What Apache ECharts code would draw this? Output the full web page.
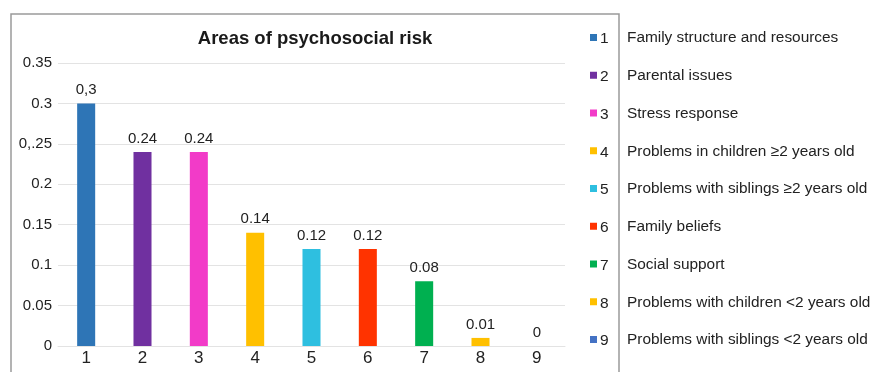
<!DOCTYPE html>
<html>
<head>
<meta charset="utf-8">
<script src="https://cdn.jsdelivr.net/npm/echarts@6/dist/echarts.min.js"></script>
<style>
  html, body { margin: 0; padding: 0; background: #fff; }
  #chart { width: 874px; height: 372px; }
</style>
</head>
<body>
<div id="chart"></div>
<script>
// Psychosocial risk areas: share of families flagged in each area
const categories = ['1', '2', '3', '4', '5', '6', '7', '8', '9'];
const riskValues = [0.3, 0.24, 0.24, 0.14, 0.12, 0.12, 0.08, 0.01, 0];
const valueLabels = ['0,3', '0.24', '0.24', '0.14', '0.12', '0.12', '0.08', '0.01', '0'];
const areaNames = [
  'Family structure and resources',
  'Parental issues',
  'Stress response',
  'Problems in children \u22652 years old',
  'Problems with siblings \u22652 years old',
  'Family beliefs',
  'Social support',
  'Problems with children <2 years old',
  'Problems with siblings <2 years old'
];
const yTickLabels = ['0', '0.05', '0.1', '0.15', '0.2', '0,.25', '0.3', '0.35'];
const areaColors = ['#2E75B6', '#7030A0', '#F23BC8', '#FFC000', '#2EBFE0', '#FF3300', '#00B050', '#FFC000', '#4472C4'];

const FONT = 'Liberation Sans, Arial, sans-serif';
const chart = echarts.init(document.getElementById('chart'), null, { renderer: 'canvas' });

// Legend column: colour key + number inside the frame, description beside it
const legendTop = 38, legendStep = 37.75;
const legendItems = [];
areaNames.forEach(function (name, i) {
  const cy = legendTop + i * legendStep;
  legendItems.push({
    type: 'rect', shape: { x: 590, y: cy - 4, width: 7, height: 7 },
    style: { fill: areaColors[i] }
  });
  legendItems.push({
    type: 'text', x: 600, y: cy + 1,
    style: { text: categories[i], font: '15.5px ' + FONT, fill: '#222', textVerticalAlign: 'middle' }
  });
  legendItems.push({
    type: 'text', x: 627, y: cy,
    style: { text: name, font: '15.4px ' + FONT, fill: '#222', textVerticalAlign: 'middle' }
  });
});

chart.setOption({
  animation: false,
  backgroundColor: '#fff',
  title: {
    text: 'Areas of psychosocial risk',
    left: 310, top: 24, textAlign: 'center',
    textStyle: { fontFamily: FONT, fontSize: 18.5, fontWeight: 'bold', color: '#1a1a1a' }
  },
  grid: { left: 58, right: 309, top: 63, bottom: 26, containLabel: false },
  xAxis: {
    type: 'category',
    data: categories,
    axisLine: { lineStyle: { color: '#e3e3e3', width: 1 } },
    axisTick: { show: false },
    axisLabel: { fontFamily: FONT, fontSize: 17, color: '#222', margin: 4 }
  },
  yAxis: {
    type: 'value',
    min: 0, max: 0.35, interval: 0.05,
    axisLine: { show: false },
    axisTick: { show: false },
    splitLine: { lineStyle: { color: '#e3e3e3', width: 1 } },
    axisLabel: {
      fontFamily: FONT, fontSize: 15, color: '#222', margin: 6,
      formatter: function (v) { return yTickLabels[Math.round(v / 0.05)]; }
    }
  },
  series: [{
    type: 'bar',
    barWidth: '32%',
    data: riskValues.map(function (v, i) {
      return { value: v, itemStyle: { color: areaColors[i] } };
    }),
    label: {
      show: true, position: 'top', distance: 6,
      fontFamily: FONT, fontSize: 15, color: '#222',
      formatter: function (p) { return valueLabels[p.dataIndex]; }
    }
  }],
  graphic: [
    // chart frame (open at the bottom)
    {
      type: 'polyline',
      shape: { points: [[11, 372], [11, 14], [619, 14], [619, 372]] },
      style: { stroke: '#9a9a9a', lineWidth: 1.5, fill: null }
    }
  ].concat(legendItems)
});
</script>
</body>
</html>
